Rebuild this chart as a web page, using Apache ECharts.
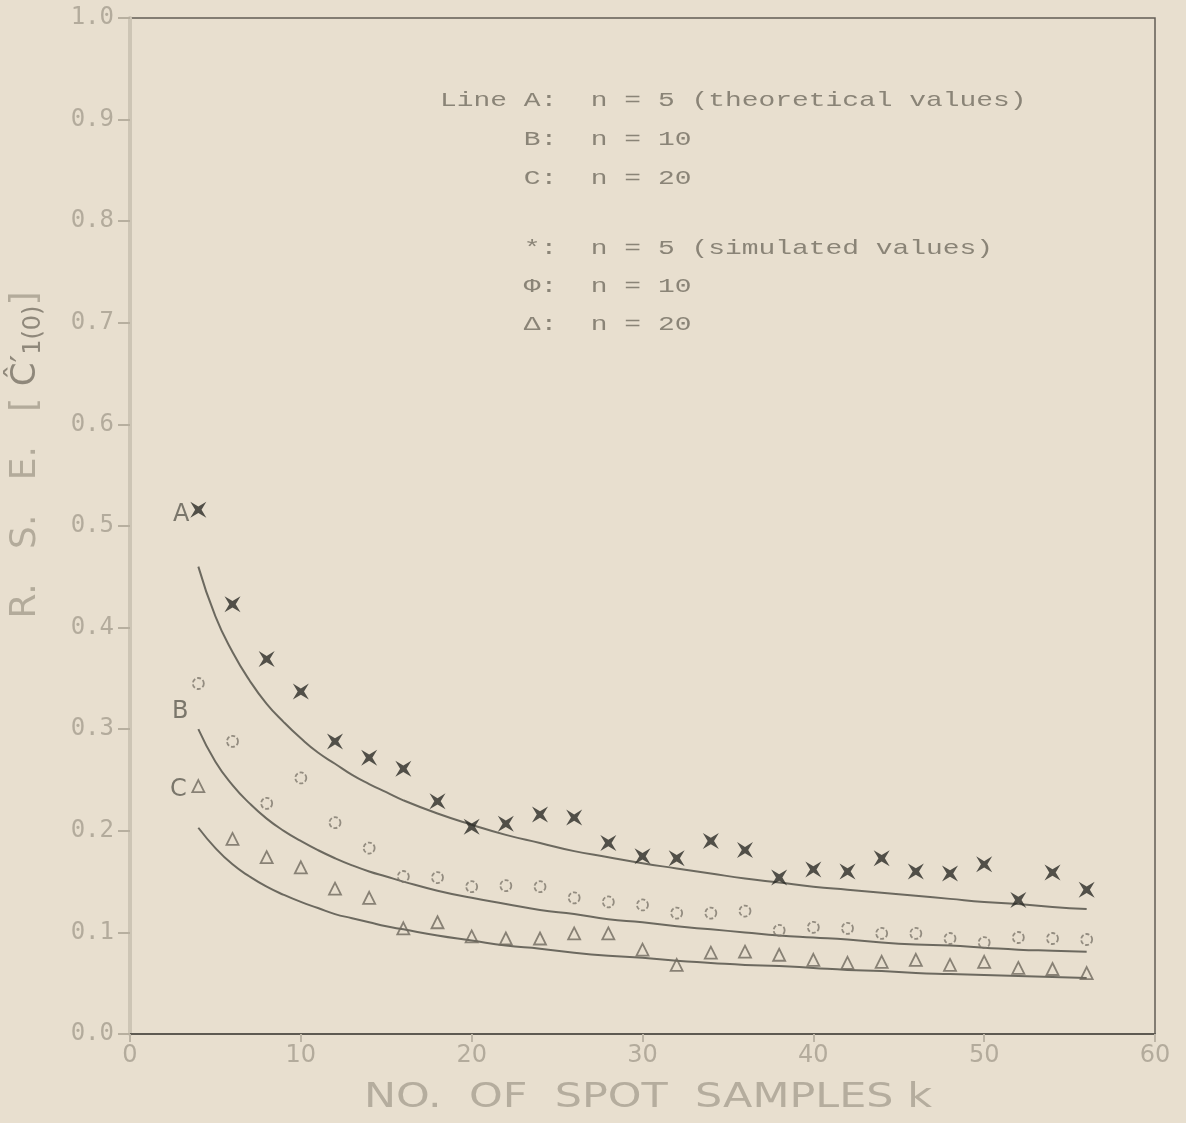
<!DOCTYPE html>
<html><head><meta charset="utf-8">
<script src="https://cdn.jsdelivr.net/npm/echarts@6/dist/echarts.min.js"></script>
<style>html,body{margin:0;padding:0;background:#e8dfcf;}#c{width:1186px;height:1123px;}</style>
</head><body><div id="c"></div>
<script>
// theoretical lines (A: n=5, B: n=10, C: n=20)
const lineK = [4,5,6,7,8,9,10,11,12,13,14,15,16,18,20,22,24,26,28,30,32,34,36,38,40,42,44,46,48,50,52,54,56];
const lineA = [0.460,0.411,0.376,0.348,0.325,0.307,0.291,0.277,0.266,0.255,0.246,0.238,0.230,0.217,0.206,0.196,0.188,0.180,0.174,0.168,0.163,0.158,0.153,0.149,0.145,0.142,0.139,0.136,0.133,0.130,0.128,0.125,0.123];
const lineB = [0.300,0.268,0.245,0.227,0.212,0.200,0.190,0.181,0.173,0.166,0.160,0.155,0.150,0.141,0.134,0.128,0.122,0.118,0.113,0.110,0.106,0.103,0.100,0.097,0.095,0.093,0.090,0.088,0.087,0.085,0.083,0.082,0.081];
const lineC = [0.203,0.183,0.167,0.155,0.145,0.137,0.130,0.124,0.118,0.114,0.110,0.106,0.103,0.097,0.092,0.087,0.084,0.080,0.077,0.075,0.072,0.070,0.068,0.067,0.065,0.063,0.062,0.060,0.059,0.058,0.057,0.056,0.055];
// simulated values
const simK = [4,6,8,10,12,14,16,18,20,22,24,26,28,30,32,34,36,38,40,42,44,46,48,50,52,54,56];
const star5 = [0.516,0.423,0.369,0.337,0.288,0.272,0.261,0.229,0.204,0.207,0.216,0.213,0.188,0.175,0.173,0.190,0.181,0.154,0.162,0.160,0.173,0.160,0.158,0.167,0.132,0.159,0.142];
const circ10 = [0.345,0.288,0.227,0.252,0.208,0.183,0.155,0.154,0.145,0.146,0.145,0.134,0.130,0.127,0.119,0.119,0.121,0.102,0.105,0.104,0.099,0.099,0.094,0.090,0.095,0.094,0.093];
const tri20 = [0.244,0.192,0.174,0.164,0.143,0.134,0.104,0.110,0.096,0.094,0.094,0.099,0.099,0.083,0.068,0.080,0.081,0.078,0.073,0.070,0.071,0.073,0.068,0.071,0.065,0.064,0.060];
const xTicks = ['0','10','20','30','40','50','60'];
const legendLines = [
  'Line A:  n = 5 (theoretical values)',
  '     B:  n = 10',
  '     C:  n = 20',
  '     *:  n = 5 (simulated values)',
  '     \u03A6:  n = 10',
  '     \u0394:  n = 20'
];
const curveLabels = ['A','B','C'];
const xTitle = 'NO.  OF  SPOT  SAMPLES k';

const pair = (ks, vs) => ks.map((k,i)=>[k, vs[i]]);
const chart = echarts.init(document.getElementById('c'));
const starPath = 'path://M0,0 L50,30 L100,0 L70,50 L100,100 L50,70 L0,100 L30,50 Z';
const lineStyle = {color:'#6c695f', width:2};
const legendY = [102,141,180,250,288,326];
const graphics = legendLines.map((t,i)=>({
  type:'text', left: 440, top: legendY[i]-12, scaleX: 1.33,
  style:{text:t, font:'21px "Liberation Mono"', fill:'#8a8477'}
}));
const labPos = [[173,503],[172,700],[170,778]];
curveLabels.forEach((t,i)=>graphics.push({type:'text', left:labPos[i][0], top:labPos[i][1],
  style:{text:t, font:'24px "DejaVu Sans"', fill:'#7a766b'}}));
graphics.push({
  type:'text', x: 26, y: 455, rotation: Math.PI/2,
  style:{
    text:'R.   S.   E.   [ {c|\u0108\u2032}{s|1(0)}]',
    font:'36px "DejaVu Sans"', fill:'#b3ab9b', align:'center', verticalAlign:'middle',
    rich:{
      c:{font:'34px "DejaVu Sans"', fill:'#8f887b'},
      s:{font:'24px "DejaVu Sans"', fill:'#8f887b', padding:[16,0,0,0]}
    }
  }
});
graphics.push({
  type:'text', x: 648, y: 1098, scaleX: 1.3,
  style:{text:xTitle, font:'33px "DejaVu Sans"', fill:'#b5ad9e', align:'center', verticalAlign:'middle'}
});

chart.setOption({
  backgroundColor:'#e8dfcf',
  animation:false,
  grid:{left:130, right:31, top:18, bottom:89, show:true, borderColor:'#625e55', borderWidth:1.5, backgroundColor:'transparent'},
  xAxis:{
    type:'value', min:0, max:60, interval:10,
    axisLine:{lineStyle:{color:'#5e5a52', width:2}},
    axisTick:{show:true, length:8, lineStyle:{color:'#bdb5a6', width:2}},
    splitLine:{show:false},
    axisLabel:{color:'#b3ab9c', fontSize:24, fontFamily:'DejaVu Sans', margin:10,
      formatter:(v)=>xTicks[Math.round(v/10)]}
  },
  yAxis:{
    type:'value', min:0, max:1, interval:0.1,
    axisLine:{show:true, lineStyle:{color:'#cdc5b5', width:4}},
    axisTick:{show:true, length:12, lineStyle:{color:'#b7af9f', width:2}},
    splitLine:{show:false},
    axisLabel:{color:'#b3ab9c', fontSize:24, fontFamily:'DejaVu Sans Mono', margin:16,
      formatter:(v)=>v.toFixed(1)}
  },
  graphic: graphics,
  series:[
    {type:'line', data:pair(lineK,lineA), smooth:true, showSymbol:false, lineStyle, z:2},
    {type:'line', data:pair(lineK,lineB), smooth:true, showSymbol:false, lineStyle, z:2},
    {type:'line', data:pair(lineK,lineC), smooth:true, showSymbol:false, lineStyle, z:2},
    {type:'scatter', data:pair(simK,star5), symbol:starPath, symbolSize:16,
      itemStyle:{color:'#2b2a26'}, z:3},
    {type:'scatter', data:pair(simK,circ10), symbol:'circle', symbolSize:11,
      itemStyle:{color:'rgba(0,0,0,0)', borderColor:'#7d776b', borderWidth:1.8, borderType:[4,2]}, z:3},
    {type:'scatter', data:pair(simK,tri20), symbol:'triangle', symbolSize:12,
      itemStyle:{color:'rgba(0,0,0,0)', borderColor:'#6f695e', borderWidth:1.8}, z:3}
  ]
});
</script></body></html>
